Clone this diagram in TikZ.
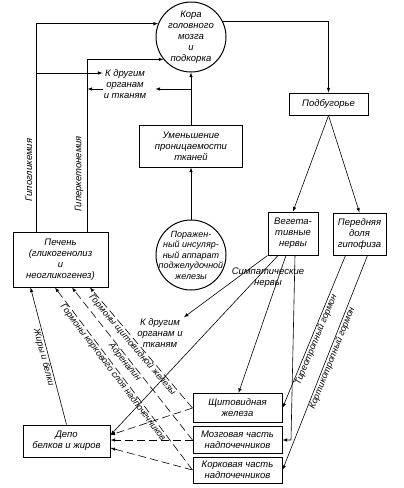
\documentclass[tikz,border=0pt]{standalone}
\usepackage{fontspec}
\setmainfont{Liberation Sans}
\usetikzlibrary{arrows.meta, calc}

\begin{document}
\begin{tikzpicture}[
        x=1pt, y=-1pt,
        txt/.style={font=\fontsize{9.5}{11}\selectfont\itshape, align=center},
        organ/.style={draw, line width=1pt, rectangle, txt, inner sep=1pt},
        centre/.style={draw, line width=1pt, circle, txt, inner sep=-2pt, minimum size=70pt},
        lbl/.style={txt, inner sep=1pt},
        hormone/.style={font=\fontsize{9}{10}\selectfont\itshape, inner sep=0.5pt, sloped, below},
        arrow/.style={-latex, line width=0.6pt},
        dasharrow/.style={-latex, line width=0.6pt, dash pattern=on 8pt off 4pt}
    ]
        \useasboundingbox (0,0) rectangle (404,488);

        % Brain and hypothalamus
        \node[centre] (brain) at (191,37) {Кора\\головного\\мозга\\и\\подкорка};
        \node[organ, minimum width=79pt, minimum height=22pt] (podbug) at (328.5,104) {Подбугорье};

        % Tissues and pancreas
        \node[organ, minimum width=103pt, minimum height=42pt] (umen) at (191,146) {Уменьшение\\проницаемости\\тканей};
        \node[centre, inner sep=-9pt, font=\fontsize{9}{10.5}\selectfont\itshape] (porazh) at (191,255) {Поражен-\\ный инсуляр-\\ный аппарат\\поджелудочной\\железы};

        % Nerves and pituitary
        \node[organ, minimum width=50pt, minimum height=43pt] (veget) at (293,233.5) {Вегета-\\тивные\\нервы};
        \node[organ, minimum width=53pt, minimum height=42pt] (peredn) at (359.5,234) {Передняя\\доля\\гипофиза};

        % Liver and depots
        \node[organ, minimum width=95pt, minimum height=55pt] (pechen) at (60.5,259.5) {Печень\\(гликогенолиз\\и\\неогликогенез)};
        \node[organ, minimum width=87pt, minimum height=32pt] (depo) at (66.5,441) {Депо\\белков и жиров};

        % Endocrine glands
        \node[organ, minimum width=89pt, minimum height=29pt] (shchit) at (237.5,408) {Щитовидная\\железа};
        \node[organ, minimum width=89pt, minimum height=27pt] (mozg) at (237.5,440) {Мозговая часть\\надпочечников};
        \node[organ, minimum width=89pt, minimum height=26pt] (kork) at (237.5,470) {Корковая часть\\надпочечников};

        % Free labels
        \node[lbl] (other1) at (125,84) {К другим\\органам\\и тканям};
        \node[lbl] (other2) at (160,333) {К другим\\органам и\\тканям};
        \node[lbl, rotate=90] (hypo) at (29,170) {Гипогликемия};
        \node[lbl, rotate=90] (keto) at (79,174) {Гиперкетонемия};
        \node[lbl] (symp) at (268,278) {Симпатические\\нервы};

        \coordinate (hypobr) at (36.5,73);
        \coordinate (ketbr) at (87.5,89);
        \coordinate (umenbr) at (191,89);
        \coordinate (mozgbend) at (291,440);

        % Brain connections
        \draw[arrow] (brain.27) -| (podbug.north);
        \draw[arrow] ([xshift=-24pt]pechen.north) |- (brain.158);
        \draw[arrow] ([xshift=27pt]pechen.north) |- (brain.219);
        \draw[arrow] (umen) -- (brain);
        \draw[arrow] (porazh) -- (umen);
        \draw[arrow] (hypobr) -- (hypobr -| other1.west);
        \draw[arrow] (umenbr) -- ($(umenbr -| other1.east)+(8,0)$);
        \draw[arrow] (umenbr -| other1.west) -- (ketbr);

        % Hypothalamus outputs
        \draw[arrow] (podbug.south) -- (veget.north);
        \draw[arrow] (podbug.south) -- (peredn.north);
        \draw[arrow] ([xshift=-14pt]peredn.south) -- node[hormone, pos=0.54] {Тиреотропный гормон} (shchit.east);
        \draw[arrow] ([xshift=8pt]peredn.south) -- node[hormone, pos=0.47] {Кортикотропный гормон} (kork.east);

        % Vegetative nerves
        \draw[arrow] (veget.south west) -- (other2.north east);
        \draw[arrow] ([xshift=-15pt]veget.south) -- ([yshift=6pt]depo.east);
        \draw[arrow] ([xshift=-7pt]veget.south) -- ([xshift=1pt]shchit.north);
        \draw[arrow] ([xshift=2pt]veget.south) -- (mozgbend) -- (mozg.east);

        % Hormones to liver
        \draw[dasharrow] (shchit.west) -- node[hormone, pos=0.55] {Гормоны щитовидной железы} ([xshift=29.5pt]pechen.south);
        \draw[dasharrow] (mozg.west) -- node[hormone, pos=0.53] {Адреналин} ([xshift=11.5pt]pechen.south);
        \draw[dasharrow] (kork.west) -- node[hormone, pos=0.55] {Гормоны коркового слоя надпочечников} ([xshift=-5.5pt]pechen.south);

        % Depots
        \draw[dasharrow] (shchit.west) -- ([yshift=6pt]depo.east);
        \draw[dasharrow] (mozg.west) -- (mozg.west -| depo.east);
        \draw[dasharrow] (kork.west) -- ([yshift=-7pt]depo.east);
        \draw[arrow] (depo.north) -- node[hormone] {Жиры и белки} ([xshift=-30pt]pechen.south);

\end{tikzpicture}
\end{document}
